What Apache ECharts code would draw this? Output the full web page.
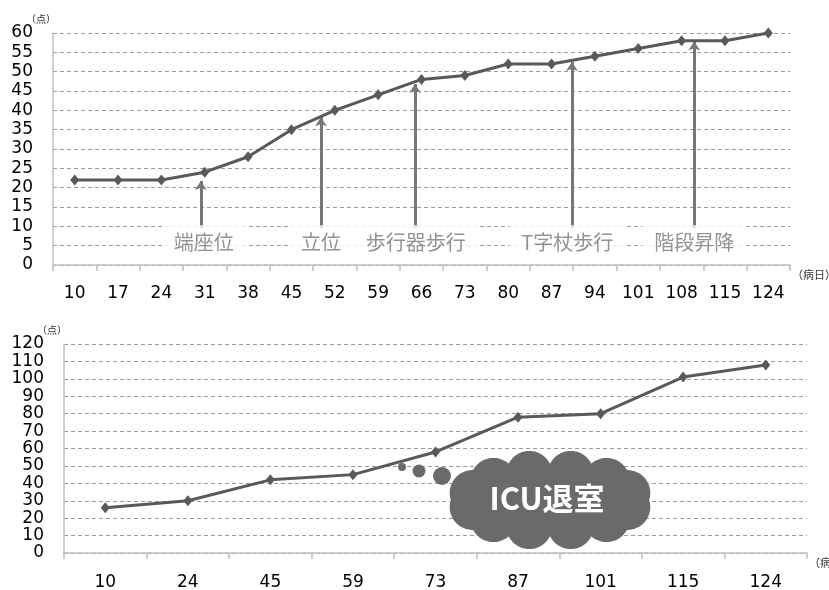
<!DOCTYPE html>
<html>
<head>
<meta charset="utf-8">
<script src="https://cdn.jsdelivr.net/npm/echarts@6/dist/echarts.min.js"></script>
<style>
  html, body { margin: 0; padding: 0; background: #fff; }
  #chart { width: 829px; height: 590px; }
</style>
</head>
<body>
<div id="chart"></div>
<script>
// 上段：病日ごとの点数
var days1 = ['10', '17', '24', '31', '38', '45', '52', '59', '66', '73', '80', '87', '94', '101', '108', '115', '124'];
var score1 = [22, 22, 22, 24, 28, 35, 40, 44, 48, 49, 52, 52, 54, 56, 58, 58, 60];

// 上段の矢印と注記（x はカテゴリ番号）
var annotText = ['端座位', '立位', '歩行器歩行', 'T字杖歩行', '階段昇降'];
var arrowX = [2.91, 5.68, 7.85, 11.47, 14.29];
var arrowTip = [21.7, 38.2, 46.8, 52.5, 57.8];
var arrowBase = 9.5;
var annotX = [2.98, 5.68, 7.87, 11.36, 14.29];
var annotY = 5.9;

// 下段
var days2 = ['10', '24', '45', '59', '73', '87', '101', '115', '124'];
var score2 = [26, 30, 42, 45, 58, 78, 80, 101, 108];

var numFont = 'DejaVu Sans';
var jpFont = 'Noto Sans CJK JP';
var lineColor = '#595959';
var axisColor = '#bfbfbf';

var chart = echarts.init(document.getElementById('chart'));

// 雲の形（吹き出し）：楕円＋周りの円の外形を多角形にする
var cx0 = 550, cy0 = 500, erx = 88, ery = 34;
var bumps = [];
for (var a = 0; a < 360; a += 30) {
  var rad = (a + 15) * Math.PI / 180;
  bumps.push([cx0 + 80 * Math.cos(rad), cy0 + 27 * Math.sin(rad), 23]);
}
var outline = [];
for (var k = 0; k < 720; k++) {
  var th = k * Math.PI / 360;
  var dx = Math.cos(th), dy = Math.sin(th);
  var t = 1 / Math.sqrt((dx / erx) * (dx / erx) + (dy / ery) * (dy / ery));
  bumps.forEach(function (b) {
    var mx = b[0] - cx0, my = b[1] - cy0;
    var bb = mx * dx + my * dy;
    var disc = bb * bb - (mx * mx + my * my - b[2] * b[2]);
    if (disc >= 0) t = Math.max(t, bb + Math.sqrt(disc));
  });
  outline.push([cx0 + t * dx, cy0 + t * dy]);
}
var cloudFill = '#6a6a6a';
var cloud = [{ type: 'polygon', z: 100, shape: { points: outline }, style: { fill: cloudFill } }];
[[402, 467, 4], [419, 471, 6.5], [442, 476, 9]].forEach(function (b) {
  cloud.push({ type: 'circle', z: 100, shape: { cx: b[0], cy: b[1], r: b[2] }, style: { fill: cloudFill } });
});
cloud.push({
  type: 'text', x: 547, y: 498, z: 101,
  style: { text: 'ICU退室', fill: '#fff', font: 'bold 31px "Noto Sans CJK JP"', align: 'center', verticalAlign: 'middle' }
});

function yAxisBase(grid, max, step) {
  return {
    type: 'value', gridIndex: grid, min: 0, max: max, interval: step,
    name: '（点）', nameLocation: 'end', nameGap: 8,
    nameTextStyle: { fontFamily: jpFont, fontSize: 10, color: '#333', align: 'right', padding: [0, -3, 0, 0] },
    axisLine: { show: true, onZero: false, lineStyle: { color: axisColor, width: 1.5 } },
    axisTick: { show: false },
    axisLabel: { color: '#000', fontFamily: numFont, fontSize: 17, margin: 20 },
    splitLine: { lineStyle: { color: '#999', type: [4, 3], width: 1 } }
  };
}

function xAxisBase(grid, data, margin) {
  return {
    type: 'category', gridIndex: grid, data: data, boundaryGap: true,
    name: '（病日）', nameLocation: 'end', nameGap: 2,
    nameTextStyle: { fontFamily: jpFont, fontSize: 11, color: '#333', align: 'left', verticalAlign: 'top', padding: [4, 0, 0, 0] },
    axisLine: { onZero: false, lineStyle: { color: axisColor, width: 1.5 } },
    axisTick: { show: true, length: 6, lineStyle: { color: axisColor, width: 1.5 } },
    axisLabel: { color: '#000', fontFamily: numFont, fontSize: 17, margin: margin, interval: 0 },
    splitLine: { show: false }
  };
}

chart.setOption({
  animation: false,
  grid: [
    { left: 53, right: 39, top: 33, height: 232, outerBoundsMode: 'none' },
    { left: 64, right: 22, top: 344, height: 209, outerBoundsMode: 'none' }
  ],
  xAxis: [
    xAxisBase(0, days1, 20),
    { type: 'value', gridIndex: 0, min: -0.5, max: 16.5, show: false },
    xAxisBase(1, days2, 21)
  ],
  yAxis: [
    yAxisBase(0, 60, 5),
    yAxisBase(1, 120, 10)
  ],
  series: [
    {
      type: 'line', xAxisIndex: 0, yAxisIndex: 0, data: score1,
      symbol: 'diamond', symbolSize: [9, 11],
      lineStyle: { color: lineColor, width: 3 },
      itemStyle: { color: lineColor }, z: 5, silent: true
    },
    {
      type: 'lines', coordinateSystem: 'cartesian2d', xAxisIndex: 1, yAxisIndex: 0,
      symbol: ['none', 'arrow'], symbolSize: 9,
      lineStyle: { color: '#777', width: 3, opacity: 1 },
      data: arrowX.map(function (x, i) {
        return { coords: [[x, arrowBase], [x, arrowTip[i]]] };
      }),
      silent: true, z: 3
    },
    {
      type: 'scatter', xAxisIndex: 1, yAxisIndex: 0, symbolSize: 1,
      itemStyle: { color: 'rgba(0,0,0,0)' },
      data: annotX.map(function (x) { return [x, annotY]; }),
      label: {
        show: true, position: 'inside',
        formatter: function (p) { return annotText[p.dataIndex]; },
        color: '#777', fontFamily: jpFont, fontSize: 20,
        backgroundColor: '#fff', padding: [7, 12]
      },
      silent: true, z: 4
    },
    {
      type: 'line', xAxisIndex: 2, yAxisIndex: 1, data: score2,
      symbol: 'diamond', symbolSize: [9, 11],
      lineStyle: { color: lineColor, width: 3 },
      itemStyle: { color: lineColor }, z: 5, silent: true
    }
  ],
  graphic: [{ type: 'group', silent: true, children: cloud }]
});
</script>
</body>
</html>
